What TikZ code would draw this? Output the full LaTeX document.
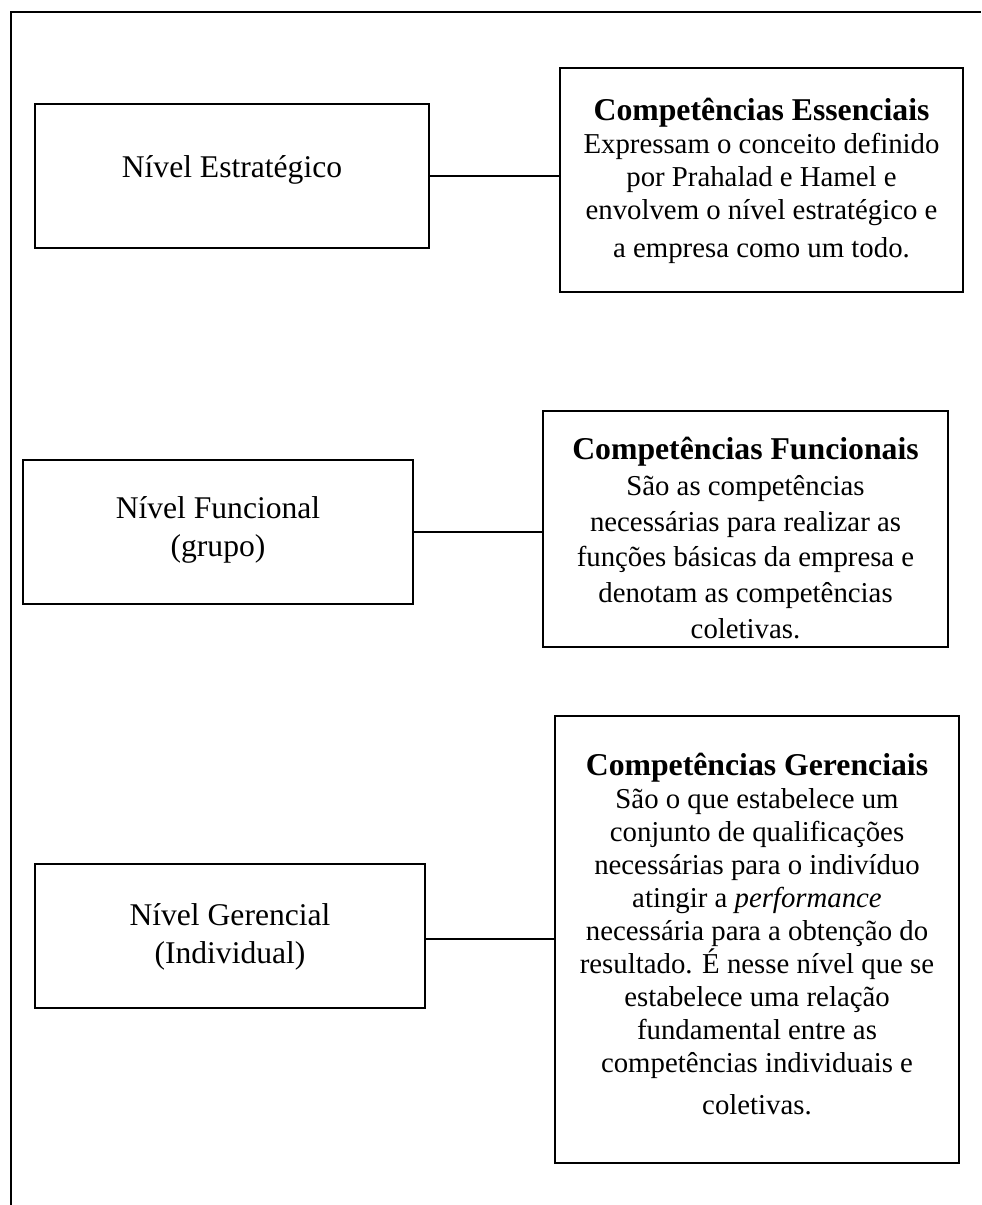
\documentclass[tikz,border=0pt]{standalone}
\usepackage{fontspec}
\setmainfont{Liberation Serif}
\newcommand\compHead[1]{{\fontsize{23.8}{26}\selectfont\bfseries #1}}
\begin{document}
\begin{tikzpicture}[x=0.75pt,y=-0.75pt,
  box/.style={draw,line width=1.2pt,inner sep=0pt,outer sep=0pt,rectangle},
  lvl/.style={align=center,font=\fontsize{23.7}{29}\selectfont},
  desc/.style={align=center,font=\fontsize{21.6}{24.75}\selectfont},
  link/.style={line width=1.2pt}]
\useasboundingbox (0,0) rectangle (981,1205);

% outer frame (open on the right and at the bottom)
\coordinate (fa) at (11,1205);
\coordinate (fb) at (11,12);
\coordinate (fc) at (981,12);
\draw[line width=1.5pt] (fa) -- (fb) -- (fc);

% level boxes
\node[box,minimum width=394*0.75pt,minimum height=144*0.75pt] (l1) at (232,176) {};
\node[box,minimum width=390*0.75pt,minimum height=144*0.75pt] (l2) at (218,532) {};
\node[box,minimum width=390*0.75pt,minimum height=144*0.75pt] (l3) at (230,936) {};

\node[lvl] (n1) at (232,170) {Nível Estratégico};
\node[lvl] (n2) at (218,530) {Nível Funcional\\(grupo)};
\node[lvl] (n3) at (230,937) {Nível Gerencial\\(Individual)};

% competence boxes
\node[box,minimum width=403*0.75pt,minimum height=224*0.75pt] (r1) at (761.5,180) {};
\node[box,minimum width=405*0.75pt,minimum height=236*0.75pt] (r2) at (745.5,529) {};
\node[box,minimum width=404*0.75pt,minimum height=447*0.75pt] (r3) at (757,939.5) {};

\node[desc] (t1) at (761.5,181) {\compHead{Competências Essenciais}\\
  Expressam o conceito definido\\
  por Prahalad e Hamel e\\
  envolvem o nível estratégico e\\[4pt]
  a empresa como um todo.};

\node[desc,font=\fontsize{21.6}{26.8}\selectfont] (t2) at (745.5,538) {\compHead{Competências Funcionais}\\
  São as competências\\
  necessárias para realizar as\\
  funções básicas da empresa e\\
  denotam as competências\\
  coletivas.};

\node[desc] (t3) at (757,934) {\compHead{Competências Gerenciais}\\
  São o que estabelece um\\
  conjunto de qualificações\\
  necessárias para o indivíduo\\
  atingir a \textit{performance}\\
  necessária para a obtenção do\\
  resultado. É nesse nível que se\\
  estabelece uma relação\\
  fundamental entre as\\
  competências individuais e\\[7pt]
  coletivas.};

% connectors
\draw[link] (l1.east) -- (l1.east -| r1.west);
\draw[link] (l2.east) -- (l2.east -| r2.west);
\draw[link] (l3.east |- 0,939) -- (r3.west |- 0,939);
\end{tikzpicture}
\end{document}
